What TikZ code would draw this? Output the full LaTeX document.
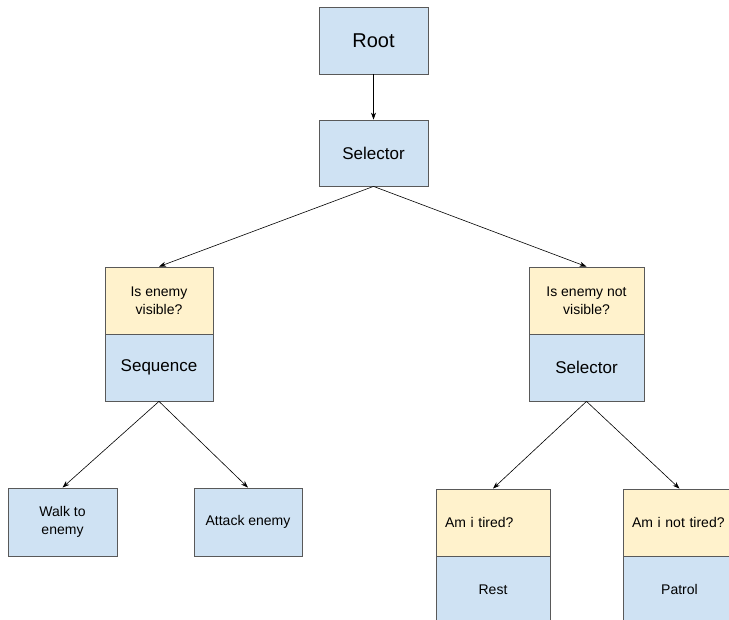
\documentclass[tikz,border=0pt]{standalone}
\usepackage{fontspec}
\setmainfont{Liberation Sans}
\usetikzlibrary{arrows.meta}
\definecolor{taskblue}{HTML}{CFE2F3}
\definecolor{condyellow}{HTML}{FFF2CC}
\definecolor{boxline}{HTML}{595959}

\begin{document}
\begin{tikzpicture}[x=1pt, y=-1pt,
  box/.style={draw=boxline, line width=0.8pt, fill=taskblue, inner sep=2pt,
    align=center, font=\fontsize{14}{18}\selectfont},
  cond/.style={box, fill=condyellow},
  link/.style={-{Stealth[length=7pt,width=5pt]}, line width=0.6pt}]
\useasboundingbox (0,0) rectangle (729,620);
\node[box, minimum width=109pt, minimum height=67pt, font=\fontsize{20}{24}\selectfont] (root) at (373.5,40.5) {Root};
\node[box, minimum width=109pt, minimum height=66pt, font=\fontsize{17}{20}\selectfont] (sel) at (373.5,153) {Selector};
\draw[link] (root) -- (sel);

% left branch
\node[cond, minimum width=108pt, minimum height=67pt] (visible) at (159,300.5) {Is enemy\\visible?};
\node[box, minimum width=108pt, minimum height=67pt, font=\fontsize{17}{20}\selectfont] (seq) at (159,367.5) {Sequence};
\node[box, minimum width=109pt, minimum height=68pt] (walk) at (62.5,522) {Walk to\\enemy};
\node[box, minimum width=108pt, minimum height=68pt] (attack) at (248,522) {Attack enemy};
\draw[link] (sel.south) -- (visible.north);
\draw[link] (seq.south) -- (walk.north);
\draw[link] (seq.south) -- (attack.north);

% right branch
\node[cond, minimum width=115pt, minimum height=67pt] (notvisible) at (586.5,300.5) {Is enemy not\\visible?};
\node[box, minimum width=115pt, minimum height=67pt, font=\fontsize{17}{20}\selectfont] (sel2) at (586.5,367.5) {Selector};
\node[cond, minimum width=114pt, minimum height=67pt, text width=96pt, inner xsep=9pt, align=left] (tired) at (493,522.5) {Am i tired?};
\node[box, minimum width=114pt, minimum height=67pt] (rest) at (493,589.5) {Rest};
\node[cond, minimum width=113pt, minimum height=67pt, text width=95pt, inner xsep=9pt, align=left] (nottired) at (679.5,522.5) {Am i not tired?};
\node[box, minimum width=113pt, minimum height=67pt] (patrol) at (679.5,589.5) {Patrol};
\draw[link] (sel.south) -- (notvisible.north);
\draw[link] (sel2.south) -- (tired.north);
\draw[link] (sel2.south) -- (nottired.north);
\end{tikzpicture}
\end{document}
